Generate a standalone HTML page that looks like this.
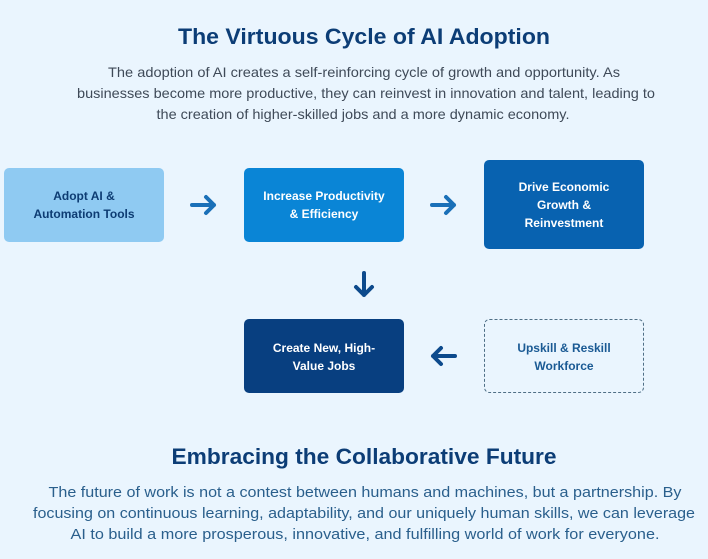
<!DOCTYPE html>
<html><head><style>
html,body{margin:0;padding:0;background:#eaf5fe;}
svg{display:block}
text{font-family:"Liberation Sans",sans-serif}
</style></head><body>
<svg width="708" height="559" viewBox="0 0 708 559" xmlns="http://www.w3.org/2000/svg">
<rect width="708" height="559" fill="#eaf5fe"/>
<text x="364" y="44" text-anchor="middle" font-size="22" font-weight="bold" fill="#0c3d76" textLength="372" lengthAdjust="spacingAndGlyphs">The Virtuous Cycle of AI Adoption</text>
<g font-size="14" fill="#3f4a58" text-anchor="middle">
<text x="364" y="77" textLength="512" lengthAdjust="spacingAndGlyphs">The adoption of AI creates a self-reinforcing cycle of growth and opportunity. As</text>
<text x="366" y="98" textLength="578" lengthAdjust="spacingAndGlyphs">businesses become more productive, they can reinvest in innovation and talent, leading to</text>
<text x="363" y="119" textLength="413" lengthAdjust="spacingAndGlyphs">the creation of higher-skilled jobs and a more dynamic economy.</text>
</g>
<rect x="4" y="168" width="160" height="74" rx="5" fill="#8fcaf2"/>
<rect x="244" y="168" width="160" height="74" rx="5" fill="#0a85d6"/>
<rect x="484" y="160" width="160" height="89" rx="5" fill="#0862b0"/>
<rect x="244" y="319" width="160" height="74" rx="5" fill="#083f80"/>
<rect x="484.5" y="319.5" width="159" height="73" rx="5" fill="none" stroke="#4f6f86" stroke-width="1" stroke-dasharray="3,2"/>
<g font-size="12" font-weight="bold" text-anchor="middle">
<text x="84" y="200" fill="#0d3c73">Adopt AI &amp;</text>
<text x="84" y="218" fill="#0d3c73">Automation Tools</text>
<text x="324" y="200" fill="#fff">Increase Productivity</text>
<text x="324" y="218" fill="#fff">&amp; Efficiency</text>
<text x="564" y="191" fill="#fff">Drive Economic</text>
<text x="564" y="209" fill="#fff">Growth &amp;</text>
<text x="564" y="227" fill="#fff">Reinvestment</text>
<text x="324" y="352" fill="#fff">Create New, High-</text>
<text x="324" y="370" fill="#fff">Value Jobs</text>
<text x="564" y="352" fill="#1a5a94">Upskill &amp; Reskill</text>
<text x="564" y="370" fill="#1a5a94">Workforce</text>
</g>
<g stroke-linecap="round" stroke-linejoin="round" fill="none" stroke-width="4">
<g stroke="#1a70b8">
<path d="M192 205H214M206 197L214 205L206 213"/>
<path d="M432 205H454M446 197L454 205L446 213"/>
</g>
<g stroke="#0d4a8c">
<path d="M364 273V295M356 287L364 295L372 287"/>
<path d="M455 356H433M441 348L433 356L441 364"/>
</g>
</g>
<text x="364" y="464" text-anchor="middle" font-size="22" font-weight="bold" fill="#0c3d76" textLength="385" lengthAdjust="spacingAndGlyphs">Embracing the Collaborative Future</text>
<g font-size="15" fill="#2a5f8c" text-anchor="middle">
<text x="365" y="497" textLength="633" lengthAdjust="spacingAndGlyphs">The future of work is not a contest between humans and machines, but a partnership. By</text>
<text x="364" y="518" textLength="662" lengthAdjust="spacingAndGlyphs">focusing on continuous learning, adaptability, and our uniquely human skills, we can leverage</text>
<text x="365" y="539" textLength="589" lengthAdjust="spacingAndGlyphs">AI to build a more prosperous, innovative, and fulfilling world of work for everyone.</text>
</g>
</svg>
</body></html>
